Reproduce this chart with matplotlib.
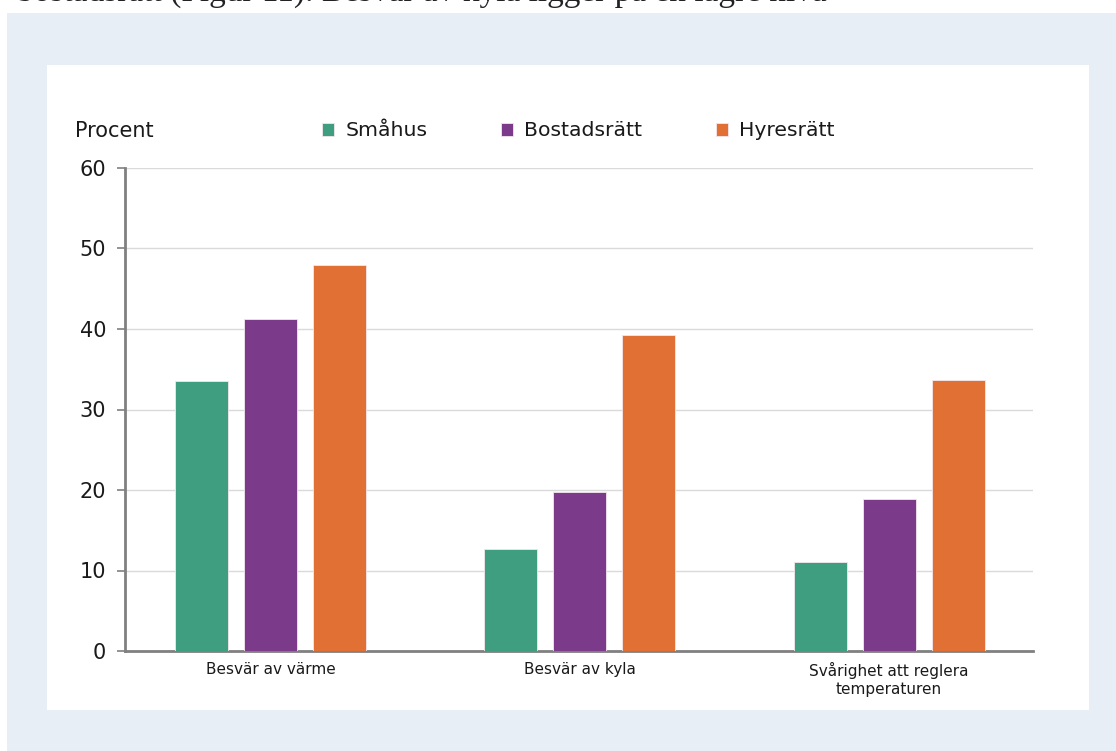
import matplotlib
matplotlib.use("Agg")
import matplotlib.pyplot as plt
from matplotlib.patches import Rectangle
import numpy as np

# Andel (procent) som upplever besvär, per upplåtelseform
categories = ["Besvär av värme", "Besvär av kyla", "Svårighet att reglera\ntemperaturen"]
series_names = ["Småhus", "Bostadsrätt", "Hyresrätt"]
smahus = [33.6, 12.7, 11.0]
bostadsratt = [41.2, 19.7, 18.9]
hyresratt = [47.9, 39.3, 33.7]
y_ticks = [0, 10, 20, 30, 40, 50, 60]

colors = ["#3f9e80", "#7b3a8a", "#e07034"]

W, H = 1116, 751
fig = plt.figure(figsize=(W / 100, H / 100), dpi=100)
fig.patch.set_facecolor("white")


def px_rect(x0, y0, x1, y1, color):
    """Rectangle in pixel coords measured from the top-left corner."""
    fig.patches.append(Rectangle((x0 / W, 1 - y1 / H), (x1 - x0) / W, (y1 - y0) / H,
                                 transform=fig.transFigure, facecolor=color,
                                 edgecolor="none", zorder=-10))


# light blue frame and white chart panel
px_rect(7, 13, W, H, "#e7eef6")
px_rect(47, 65, 1089, 710, "white")

# running text from the page above, only its lowest part is on the page
fig.text(17 / W, 1 - 1 / H, "bostadsrätt (Figur 11). Besvär av kyla ligger på en lägre nivå",
         family="Liberation Serif", fontsize=24, color="#222222", va="baseline", ha="left")

ax = fig.add_axes([125 / W, 1 - 651 / H, (1033 - 125) / W, (651 - 168) / H])
ax.set_facecolor("none")

x = np.arange(len(categories))
offset = 0.223
width = 0.171
all_series = [smahus, bostadsratt, hyresratt]
for i, (vals, name, col) in enumerate(zip(all_series, series_names, colors)):
    ax.bar(x + (i - 1) * offset, vals, width, color=col, label=name,
           edgecolor="#f4e6ee", linewidth=0.6, zorder=3)

ax.set_xlim(-0.47, 2.465)
ax.set_ylim(0, 60)
ax.set_yticks(y_ticks)
ax.set_yticklabels([str(t) for t in y_ticks], fontsize=15, color="#1a1a1a")
ax.set_xticks(x)
ax.set_xticklabels(categories, fontsize=11, color="#1a1a1a", linespacing=1.25)
ax.tick_params(axis="x", length=0, pad=8)
ax.tick_params(axis="y", length=6, width=1.2, color="#808080", pad=7.5)

ax.grid(axis="y", color="#dadada", linewidth=1.0, zorder=0)
ax.set_axisbelow(True)
for side in ["top", "right"]:
    ax.spines[side].set_visible(False)
for side in ["left", "bottom"]:
    ax.spines[side].set_color("#808080")
    ax.spines[side].set_linewidth(2)

fig.text(75 / W, 1 - 131 / H, "Procent", fontsize=15, color="#1a1a1a", va="center", ha="left")

leg = ax.legend(loc="center left", bbox_to_anchor=(322 / W, 1 - 131 / H),
                bbox_transform=fig.transFigure, ncol=3, frameon=False, fontsize=14.7,
                handlelength=0.6, handleheight=0.6, handletextpad=0.55,
                columnspacing=3.6, borderaxespad=0, borderpad=0)
for t in leg.get_texts():
    t.set_color("#1a1a1a")

fig.savefig("out.png", dpi=100, facecolor=fig.get_facecolor())
